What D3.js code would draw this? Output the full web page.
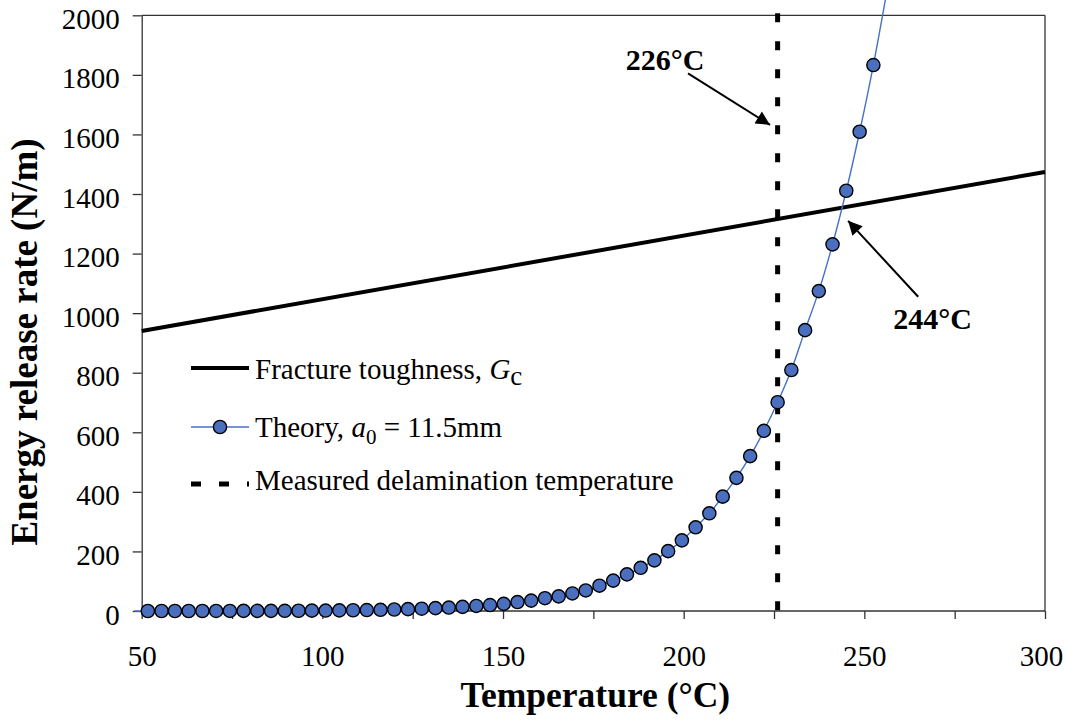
<!DOCTYPE html>
<html>
<head>
<meta charset="utf-8">
<script src="https://cdn.jsdelivr.net/npm/d3@7/dist/d3.min.js"></script>
<style>
  html, body { margin: 0; padding: 0; background: #fff; }
  svg { display: block; }
  svg text { font-family: "Liberation Serif", "Times New Roman", serif !important; fill: #000; }
</style>
</head>
<body>
<svg id="chart" width="1065" height="724" font-family="Liberation Serif"></svg>
<script>
// ---------- data ----------
const theoryTemps = [47.9, 51.7, 55.5, 59.2, 63.0, 66.8, 70.6, 74.4, 78.2, 82.0, 85.8, 89.6, 93.4, 97.1,
  100.9, 104.7, 108.5, 112.3, 116.1, 119.9, 123.7, 127.5, 131.3, 135.0, 138.8, 142.6, 146.4, 150.2,
  154.0, 157.8, 161.6, 165.4, 169.2, 172.9, 176.7, 180.5, 184.3, 188.1, 191.9, 195.7, 199.5, 203.3,
  207.1, 210.8, 214.6, 218.4, 222.2, 226.0, 229.8, 233.6, 237.4, 241.2, 245.0, 248.7, 252.5, 256.3];
const theoryValues = [0.02, 0.03, 0.04, 0.05, 0.08, 0.1, 0.15, 0.2, 0.3, 0.4, 0.5, 0.7, 0.9, 1.2,
  1.5, 2, 2.5, 3.2, 4, 5, 6.2, 7.7, 9.5, 11.5, 14, 17, 20, 24,
  30, 35, 43, 49, 59, 69, 85, 102, 123, 145, 170, 201, 237, 281,
  328, 384, 447, 520, 605, 701, 809, 943, 1074, 1231, 1411, 1609, 1833, 2085];
const toughnessTemps = [50, 300];
const toughnessValues = [940, 1474];
const measuredTemp = 226;
const xTickValues = [50, 75, 100, 125, 150, 175, 200, 225, 250, 275, 300];
const xTickLabels = ["50", "", "100", "", "150", "", "200", "", "250", "", "300"];
const yTickValues = [0, 200, 400, 600, 800, 1000, 1200, 1400, 1600, 1800, 2000];
const yTickLabels = ["0", "200", "400", "600", "800", "1000", "1200", "1400", "1600", "1800", "2000"];
const annotations = [
  {label: "226°C", tx: 184.0, ty: 1816, fromX: 201.2, fromY: 1805, toX: 223.9, toY: 1632},
  {label: "244°C", tx: 258.0, ty: 947, fromX: 264.9, fromY: 1055, toX: 245.5, toY: 1310}
];

// ---------- layout ----------
const svg = d3.select("#chart");
const FONT = "Liberation Serif";
const L = 141.7, R = 1045, T = 15.3, B = 611;
const x = d3.scaleLinear().domain([50, 300]).range([L, R]);
const y = d3.scaleLinear().domain([0, 2000]).range([B, T]);

// arrow marker
svg.append("defs").append("marker")
  .attr("id", "arrow").attr("viewBox", "0 0 10 10").attr("refX", 10).attr("refY", 5)
  .attr("markerWidth", 8).attr("markerHeight", 7).attr("orient", "auto")
  .attr("markerUnits", "strokeWidth")
  .append("path").attr("d", "M0,0 L10,5 L0,10 z").attr("fill", "#000");

// frame (top & right)
svg.append("line").attr("x1", x(50)).attr("x2", x(300)).attr("y1", y(2000)).attr("y2", y(2000))
  .attr("stroke", "#333").attr("stroke-width", 1.3);
svg.append("line").attr("x1", x(300)).attr("x2", x(300)).attr("y1", y(2000)).attr("y2", y(0))
  .attr("stroke", "#333").attr("stroke-width", 1.3);

// x axis
const xAxis = d3.axisBottom(x).tickValues(xTickValues).tickSize(8).tickSizeOuter(0)
  .tickFormat((d, i) => xTickLabels[i]).tickPadding(26);
const gx = svg.append("g").attr("transform", `translate(0,${B})`).call(xAxis)
  .attr("font-family", FONT).attr("font-size", 29);
gx.selectAll("path, line").attr("stroke", "#333").attr("stroke-width", 1.3);
gx.selectAll("text").attr("font-family", FONT).attr("font-size", 29)
  .attr("dx", d => d === 300 ? -4 : 0);
gx.select(".domain").attr("d", `M${L},0H${R}`);

// y axis
const yAxis = d3.axisLeft(y).tickValues(yTickValues).tickSize(9).tickSizeOuter(0).tickPadding(13)
  .tickFormat((d, i) => yTickLabels[i]);
const gy = svg.append("g").attr("transform", `translate(${L},0)`).call(yAxis)
  .attr("font-family", FONT).attr("font-size", 29);
gy.selectAll("path, line").attr("stroke", "#333").attr("stroke-width", 1.3);
gy.selectAll("text").attr("font-family", FONT).attr("font-size", 29).attr("dy", "0.45em");

// axis titles
svg.append("text").attr("x", (L + R) / 2 + 2).attr("y", 707).attr("text-anchor", "middle")
  .attr("font-size", 35.5).attr("font-weight", "bold").text("Temperature (°C)");
svg.append("text").attr("transform", `translate(37,${342}) rotate(-90)`)
  .attr("text-anchor", "middle").attr("font-size", 37).attr("font-weight", "bold")
  .text("Energy release rate (N/m)");

// measured temperature dashed line
svg.append("line").attr("x1", x(measuredTemp)).attr("x2", x(measuredTemp))
  .attr("y1", y(2000) - 2).attr("y2", y(0))
  .attr("stroke", "#000").attr("stroke-width", 5).attr("stroke-dasharray", "9,19");

// fracture toughness line
const tData = toughnessTemps.map((t, i) => [t, toughnessValues[i]]);
svg.append("path").datum(tData)
  .attr("d", d3.line().x(d => x(d[0])).y(d => y(d[1])))
  .attr("fill", "none").attr("stroke", "#000").attr("stroke-width", 4);

// theory curve
const thData = theoryTemps.map((t, i) => [t, theoryValues[i]]);
svg.append("path").datum(thData)
  .attr("d", d3.line().x(d => x(d[0])).y(d => y(d[1])).curve(d3.curveCatmullRom.alpha(0.5)))
  .attr("fill", "none").attr("stroke", "#4472c4").attr("stroke-width", 1.4);
svg.append("g").selectAll("circle")
  .data(thData.filter(d => d[0] >= 50 && d[0] <= 300 && d[1] <= 2000))
  .join("circle")
  .attr("cx", d => x(d[0])).attr("cy", d => y(d[1])).attr("r", 6.6)
  .attr("fill", "#4a6fbf").attr("stroke", "#000").attr("stroke-width", 1.4);

// annotations
annotations.forEach(a => {
  svg.append("text").attr("x", x(a.tx)).attr("y", y(a.ty))
    .attr("font-size", 30).attr("font-weight", "bold").text(a.label);
  svg.append("line").attr("x1", x(a.fromX)).attr("y1", y(a.fromY))
    .attr("x2", x(a.toX)).attr("y2", y(a.toY))
    .attr("stroke", "#000").attr("stroke-width", 2).attr("marker-end", "url(#arrow)");
});

// legend
const lg = svg.append("g");
const lx0 = 191, lx1 = 249, tx = 255;
const rows = [368, 427, 484];
lg.append("line").attr("x1", lx0).attr("x2", lx1).attr("y1", rows[0]).attr("y2", rows[0])
  .attr("stroke", "#000").attr("stroke-width", 4);
const t1 = lg.append("text").attr("x", tx).attr("y", rows[0] + 11).attr("font-size", 29);
t1.append("tspan").text("Fracture toughness, ");
t1.append("tspan").attr("font-style", "italic").text("G");
t1.append("tspan").attr("dy", 6).attr("font-size", 27).text("c");

lg.append("line").attr("x1", lx0).attr("x2", lx1).attr("y1", rows[1]).attr("y2", rows[1])
  .attr("stroke", "#4472c4").attr("stroke-width", 1.4);
lg.append("circle").attr("cx", (lx0 + lx1) / 2).attr("cy", rows[1]).attr("r", 6.6)
  .attr("fill", "#4a6fbf").attr("stroke", "#000").attr("stroke-width", 1.4);
const t2 = lg.append("text").attr("x", tx).attr("y", rows[1] + 10).attr("font-size", 29);
t2.append("tspan").text("Theory, ");
t2.append("tspan").attr("font-style", "italic").text("a");
t2.append("tspan").attr("dy", 7).attr("font-size", 21).text("0");
t2.append("tspan").attr("dy", -7).text(" = 11.5mm");

lg.append("line").attr("x1", lx0).attr("x2", lx1).attr("y1", rows[2]).attr("y2", rows[2])
  .attr("stroke", "#000").attr("stroke-width", 5).attr("stroke-dasharray", "10,18");
lg.append("text").attr("x", tx).attr("y", rows[2] + 6).attr("font-size", 29)
  .text("Measured delamination temperature");
</script>
</body>
</html>
